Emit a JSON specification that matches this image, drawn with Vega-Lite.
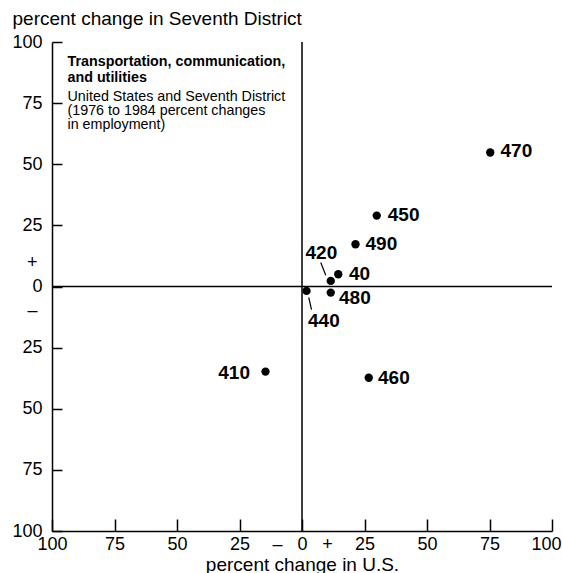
{
  "$schema": "https://vega.github.io/schema/vega-lite/v6.json",
  "width": 500,
  "height": 489,
  "autosize": {"type": "none"},
  "padding": {"left": 52, "top": 42, "right": 10, "bottom": 42},
  "background": "white",
  "config": {
    "view": {"stroke": null},
    "font": "Liberation Sans",
    "axis": {
      "grid": false,
      "domainColor": "black",
      "domainWidth": 1.5,
      "tickColor": "black",
      "tickWidth": 1.5,
      "labelColor": "black",
      "labelFont": "Liberation Sans",
      "labelFontSize": 18,
      "titleColor": "black",
      "titleFont": "Liberation Sans",
      "titleFontSize": 19,
      "titleFontWeight": "normal"
    }
  },
  "encoding": {
    "x": {
      "field": "x",
      "type": "quantitative",
      "scale": {"domain": [-100, 100], "nice": false, "zero": false},
      "axis": {
        "title": "percent change in U.S.",
        "values": [-100, -75, -50, -25, -10, 0, 10, 25, 50, 75, 100],
        "labelExpr": "datum.value==10?'+':(datum.value==-10?'–':''+abs(datum.value))",
        "tickSize": -12,
        "tickOpacity": {"condition": {"test": "abs(datum.value)==10", "value": 0}, "value": 1},
        "labelPadding": 16,
        "labelOffset": {"condition": {"test": "datum.value==100", "value": -6}, "value": 0},
        "labelOverlap": false,
        "labelFlush": false,
        "titleX": 250,
        "titleY": 39,
        "titleAlign": "center",
        "titleBaseline": "alphabetic"
      }
    },
    "y": {
      "field": "y",
      "type": "quantitative",
      "scale": {"domain": [-100, 100], "nice": false, "zero": false},
      "axis": {
        "title": "percent change in Seventh District",
        "values": [-100, -75, -50, -25, -10, 0, 10, 25, 50, 75, 100],
        "labelExpr": "datum.value==10?'+':(datum.value==-10?'–':''+abs(datum.value))",
        "tickSize": -10,
        "tickOpacity": {"condition": {"test": "abs(datum.value)==10", "value": 0}, "value": 1},
        "labelPadding": {"condition": {"test": "abs(datum.value)==10", "value": 25}, "value": 20},
        "labelOverlap": false,
        "labelFlush": false,
        "titleAngle": 0,
        "titleX": -40,
        "titleY": -18,
        "titleAlign": "left",
        "titleBaseline": "alphabetic"
      }
    }
  },
  "layer": [
    {
      "data": {"values": [
        {"x": -100, "y": 0, "x2": 100, "y2": 0},
        {"x": 0, "y": -100, "x2": 0, "y2": 100}
      ]},
      "mark": {"type": "rule", "color": "black", "strokeWidth": 1.5},
      "encoding": {"x2": {"field": "x2"}, "y2": {"field": "y2"}}
    },
    {
      "data": {"values": [
        {"x": 7.5, "y": 9.8, "x2": 9.5, "y2": 4.6},
        {"x": 2.7, "y": -4.5, "x2": 3.8, "y2": -9.5}
      ]},
      "mark": {"type": "rule", "color": "black", "strokeWidth": 1.2},
      "encoding": {"x2": {"field": "x2"}, "y2": {"field": "y2"}}
    },
    {
      "data": {"values": [
        {"code": "470", "x": 75.3, "y": 54.8},
        {"code": "450", "x": 29.9, "y": 29.0},
        {"code": "490", "x": 21.4, "y": 17.3},
        {"code": "40", "x": 14.5, "y": 5.0},
        {"code": "420", "x": 11.5, "y": 2.3},
        {"code": "480", "x": 11.5, "y": -2.5},
        {"code": "440", "x": 1.8, "y": -1.8},
        {"code": "410", "x": -14.6, "y": -34.8},
        {"code": "460", "x": 26.7, "y": -37.3}
      ]},
      "mark": {"type": "circle", "color": "black", "opacity": 1, "size": 70}
    },
    {
      "data": {"values": [
        {"code": "470", "x": 79.4, "y": 55.5},
        {"code": "450", "x": 34.3, "y": 29.4},
        {"code": "490", "x": 25.4, "y": 17.3},
        {"code": "40", "x": 18.8, "y": 5.3},
        {"code": "420", "x": 1.4, "y": 13.6},
        {"code": "480", "x": 14.8, "y": -4.9},
        {"code": "440", "x": 2.4, "y": -14.3},
        {"code": "410", "x": -33.5, "y": -35.4},
        {"code": "460", "x": 30.4, "y": -37.5}
      ]},
      "mark": {"type": "text", "align": "left", "baseline": "middle", "font": "Liberation Sans", "fontSize": 19, "fontWeight": "bold", "color": "black"},
      "encoding": {"text": {"field": "code"}}
    },
    {
      "data": {"values": [
        {"note": "Transportation, communication,\nand utilities", "x": -93.8, "y": 91.8}
      ]},
      "mark": {"type": "text", "align": "left", "baseline": "middle", "lineBreak": "\n", "lineHeight": 16, "font": "Liberation Sans", "fontSize": 14.3, "fontWeight": "bold", "color": "black"},
      "encoding": {"text": {"field": "note"}}
    },
    {
      "data": {"values": [
        {"note": "United States and Seventh District\n(1976 to 1984 percent changes\nin employment)", "x": -93.8, "y": 77.5}
      ]},
      "mark": {"type": "text", "align": "left", "baseline": "middle", "lineBreak": "\n", "lineHeight": 14, "font": "Liberation Sans", "fontSize": 14.3, "color": "black"},
      "encoding": {"text": {"field": "note"}}
    }
  ]
}
